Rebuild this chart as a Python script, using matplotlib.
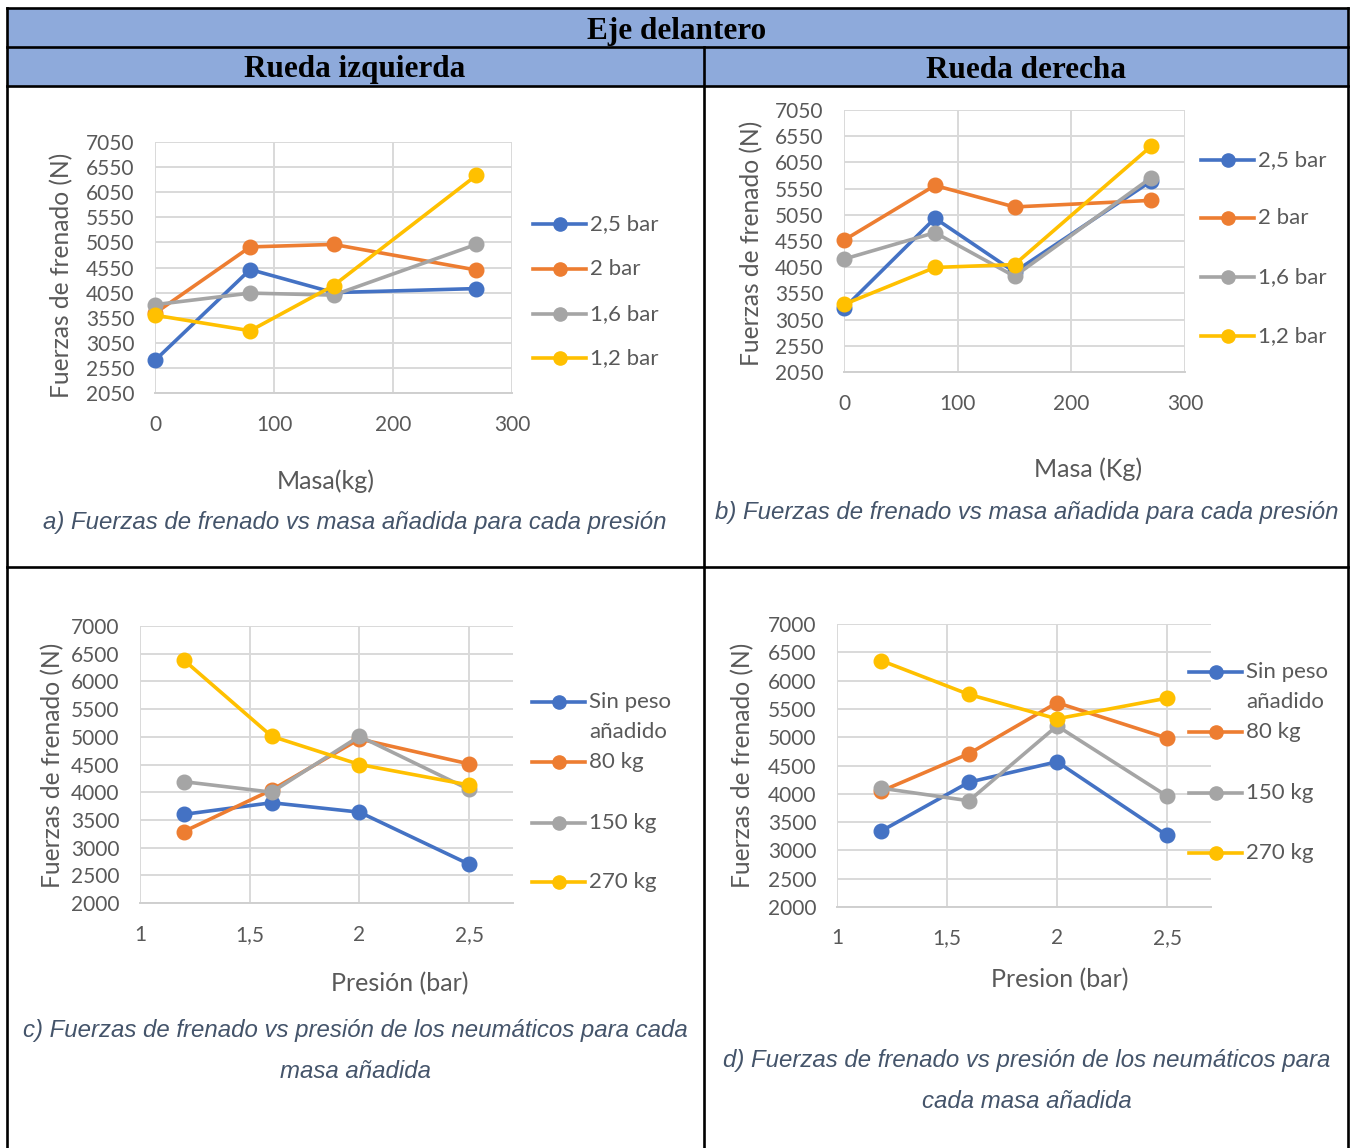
import numpy as np
import matplotlib.pyplot as plt
from matplotlib.lines import Line2D
from matplotlib.patches import Rectangle

W, H = 1351, 1148

MASAS = [0, 80, 150, 270]
PRESIONES = [1.2, 1.6, 2.0, 2.5]

PRESION_LABELS = ['2,5 bar', '2 bar', '1,6 bar', '1,2 bar']
MASA_LABELS = ['Sin peso\nañadido', '80 kg', '150 kg', '270 kg']

# fuerza de frenado (N) por presión, columnas = masa añadida 0/80/150/270 kg
izq_25 = [2700, 4510, 4050, 4130]
izq_20 = [3640, 4960, 5010, 4500]
izq_16 = [3810, 4040, 4000, 5010]
izq_12 = [3600, 3290, 4190, 6385]

der_25 = [3265, 4985, 3960, 5690]
der_20 = [4566, 5610, 5200, 5325]
der_16 = [4205, 4710, 3877, 5755]
der_12 = [3340, 4045, 4100, 6355]

COLORS = ['#4472C4', '#ED7D31', '#A5A5A5', '#FFC000']
TXT = '#595959'
CAP = '#44546A'
GRID = '#D9D9D9'
HEAD = '#8EAADB'
FONT = 'Lato'


def fx(x):
    return x / W


def fy(y):
    return 1 - y / H


def px_axes(fig, left, top, right, bottom):
    return fig.add_axes([fx(left), fy(bottom), (right - left) / W, (bottom - top) / H])


def style_axes(ax, xlim, xticks, xlabels, ylim, yticks, xpad):
    ax.set_xlim(*xlim)
    ax.set_ylim(*ylim)
    ax.set_xticks(xticks)
    ax.set_xticklabels(xlabels)
    ax.set_yticks(yticks)
    ax.set_yticklabels([str(v) for v in yticks])
    ax.grid(True, color=GRID, lw=1.4)
    ax.set_axisbelow(True)
    for side in ['top', 'right', 'left']:
        ax.spines[side].set_visible(False)
    ax.spines['bottom'].set_color('#CFCFCF')
    ax.spines['bottom'].set_linewidth(1.4)
    ax.tick_params(axis='both', length=0, labelsize=15, labelcolor=TXT)
    ax.tick_params(axis='y', pad=15)
    ax.tick_params(axis='x', pad=xpad)
    for lab in ax.get_xticklabels() + ax.get_yticklabels():
        lab.set_fontfamily(FONT)


def plot_series(ax, x, series):
    for vals, color in zip(series, COLORS):
        ax.plot(x, vals, color=color, lw=2.6, marker='o', markersize=10.5,
                clip_on=False, zorder=3)


def draw_legend(fig, x0, labels, ys):
    # ys: one list of line centres per entry (multi-line labels get several)
    for label, color, rows in zip(labels, COLORS, ys):
        y = fy(rows[0])
        fig.add_artist(Line2D([fx(x0), fx(x0 + 53)], [y, y], color=color, lw=2.6))
        fig.add_artist(Line2D([fx(x0 + 26.5)], [y], color=color, marker='o',
                              markersize=9.5, lw=0))
        for part, yy in zip(label.split('\n'), rows):
            fig.text(fx(x0 + 57), fy(yy), part, fontsize=16, color=TXT,
                     family=FONT, ha='left', va='center')


def axis_titles(fig, xlab, xpos, ypos):
    fig.text(fx(xpos[0]), fy(xpos[1]), xlab, fontsize=18, color=TXT,
             family=FONT, ha='center', va='center')
    fig.text(fx(ypos[0]), fy(ypos[1]), 'Fuerzas de frenado (N)', fontsize=17.7,
             color=TXT, family=FONT, ha='center', va='center', rotation=90)


def caption(fig, lines, x, ys):
    for line, y in zip(lines, ys):
        fig.text(fx(x), fy(y), line, fontsize=17.3, color=CAP, style='italic',
                 family='Liberation Sans', ha='center', va='center')


def draw_table(fig):
    fig.add_artist(Rectangle((fx(7), fy(86)), fx(1348 - 7), (86 - 8) / H,
                             facecolor=HEAD, edgecolor='none'))
    lw = 1.9
    segs = [
        ([7, 1348], [8, 8]),
        ([7, 1348], [47, 47]),
        ([7, 1348], [86, 86]),
        ([7, 1348], [567, 567]),
        ([7, 7], [8, 1148]),
        ([1348, 1348], [8, 1148]),
        ([704, 704], [47, 1148]),
    ]
    for xs, ys in segs:
        fig.add_artist(Line2D([fx(v) for v in xs], [fy(v) for v in ys],
                              color='black', lw=lw, solid_capstyle='projecting'))
    head = dict(fontsize=22.5, weight='bold', family='Liberation Serif',
                ha='center', va='center', color='black')
    fig.text(fx(677), fy(31), 'Eje delantero', **head)
    fig.text(fx(355), fy(70), 'Rueda izquierda', **head)
    fig.text(fx(1026), fy(70), 'Rueda derecha', **head)


def main() -> None:
    izq = np.array([izq_25, izq_20, izq_16, izq_12])
    der = np.array([der_25, der_20, der_16, der_12])

    fig = plt.figure(figsize=(W / 100, H / 100), dpi=100)
    draw_table(fig)

    yt_masa = list(range(2050, 7051, 500))
    yt_pres = list(range(2000, 7001, 500))

    # a) rueda izquierda vs masa
    ax = px_axes(fig, 155, 142, 512, 393)
    plot_series(ax, MASAS, izq)
    style_axes(ax, (0, 300), [0, 100, 200, 300], ['0', '100', '200', '300'],
               (2050, 7050), yt_masa, 16)
    draw_legend(fig, 533, PRESION_LABELS, [[224], [269], [314], [358]])
    axis_titles(fig, 'Masa(kg)', (326, 481), (62, 275))
    caption(fig, ['a) Fuerzas de frenado vs masa añadida para cada presión'], 355, [523])

    # b) rueda derecha vs masa
    ax = px_axes(fig, 844, 110, 1185, 372)
    plot_series(ax, MASAS, der)
    style_axes(ax, (0, 300), [0, 100, 200, 300], ['0', '100', '200', '300'],
               (2050, 7050), yt_masa, 16)
    draw_legend(fig, 1201, PRESION_LABELS, [[160], [218], [277], [336]])
    axis_titles(fig, 'Masa (Kg)', (1088, 469), (752, 243))
    caption(fig, ['b) Fuerzas de frenado vs masa añadida para cada presión'], 1027, [512])

    # c) y d): mismas medidas, ordenadas por presión creciente
    order = [3, 2, 1, 0]
    xt = [1, 1.5, 2, 2.5]
    xl = ['1', '1,5', '2', '2,5']

    ax = px_axes(fig, 140, 626, 513, 903)
    plot_series(ax, PRESIONES, izq[order].T)
    style_axes(ax, (1, 2.7), xt, xl, (2000, 7000), yt_pres, 16)
    draw_legend(fig, 532, MASA_LABELS, [[702, 732], [762], [823], [882]])
    axis_titles(fig, 'Presión (bar)', (400, 984), (53, 765))
    caption(fig, ['c) Fuerzas de frenado vs presión de los neumáticos para cada',
                  'masa añadida'], 355, [1031, 1072])

    ax = px_axes(fig, 837, 624, 1211, 907)
    plot_series(ax, PRESIONES, der[order].T)
    style_axes(ax, (1, 2.7), xt, xl, (2000, 7000), yt_pres, 15)
    draw_legend(fig, 1189, MASA_LABELS, [[672, 702], [732], [793], [853]])
    axis_titles(fig, 'Presion (bar)', (1060, 980), (743, 765))
    caption(fig, ['d) Fuerzas de frenado vs presión de los neumáticos para',
                  'cada masa añadida'], 1027, [1060, 1101])

    fig.savefig('out.png', dpi=100)
    plt.close(fig)


if __name__ == '__main__':
    main()
